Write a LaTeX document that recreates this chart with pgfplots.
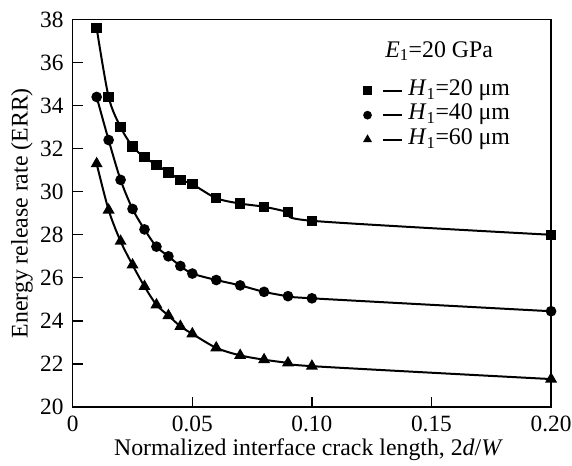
\documentclass[border=0pt]{standalone}
\usepackage{fontspec}
\setmainfont{Liberation Serif}
\usepackage{pgfplots}
\pgfplotsset{compat=1.18}

\begin{document}
\fontsize{24}{28}\selectfont
\begin{tikzpicture}
\useasboundingbox (-73bp,-59bp) rectangle (501bp,408.5bp);
\begin{axis}[
  at={(0,0)}, anchor=south west,
  scale only axis,
  width=480bp, height=389bp,
  xmin=0, xmax=0.2, ymin=20, ymax=38,
  xtick={0,0.05,0.1,0.15,0.2},
  xticklabels={0,0.05,0.10,0.15,0.20},
  ytick={20,22,...,38},
  xtick pos=left, ytick pos=left,
  tick align=inside,
  major tick length=10bp,
  /pgf/number format/assume math mode=true,
  every tick label/.append style={font=\fontsize{23.5}{28}\selectfont},
  xticklabel style={inner sep=0pt, anchor=north, yshift=-9bp},
  yticklabel style={inner sep=0pt, anchor=east, xshift=-9bp},
  axis line style={line width=1.2bp},
  tick style={line width=1.2bp, black},
  xlabel={Normalized interface crack length, 2\textit{d}/\textit{W}},
  ylabel={Energy release rate (ERR)},
  every axis x label/.style={at={(axis description cs:0.493,-0.124)}, anchor=base,
    inner sep=0pt, font=\fontsize{24}{28}\selectfont},
  every axis y label/.style={at={(axis description cs:-0.106,0.5)}, anchor=center,
    rotate=90, inner sep=0pt, font=\fontsize{24}{28}\selectfont},
  every axis plot/.append style={black, line width=2bp, smooth},
  legend style={draw=none, fill=none, at={(rel axis cs:0.609,0.848)}, anchor=north west,
    inner sep=0pt, row sep=0pt, column sep=0pt, cells={anchor=west},
    nodes={inner sep=0pt, text height=17bp, text depth=7.5bp},
    font=\fontsize{24}{28}\selectfont},
  legend image code/.code={
    \draw[#1, mark size=3.3bp] plot coordinates {(0bp,0bp)};
    \draw[#1, mark=none] (16bp,0bp) -- (35bp,0bp);
    \path (40bp,0bp);
  },
]
\addplot[mark=square*, mark size=4.2bp] coordinates {
 (0.01,37.6) (0.015,34.4) (0.02,33.0) (0.025,32.1) (0.03,31.6) (0.035,31.25)
 (0.04,30.9) (0.045,30.55) (0.05,30.35) (0.06,29.7) (0.07,29.45) (0.08,29.3)
 (0.09,29.05) (0.1,28.65) (0.2,28.0)};
\addlegendentry{\textit{H}\textsubscript{1}=20 μm}
\addplot[mark=*, mark size=4.3bp] coordinates {
 (0.01,34.4) (0.015,32.4) (0.02,30.55) (0.025,29.2) (0.03,28.25) (0.035,27.45)
 (0.04,27.0) (0.045,26.55) (0.05,26.2) (0.06,25.9) (0.07,25.65) (0.08,25.35)
 (0.09,25.15) (0.1,25.05) (0.2,24.45)};
\addlegendentry{\textit{H}\textsubscript{1}=40 μm}
\addplot[mark=triangle*, mark size=5bp] coordinates {
 (0.01,31.3) (0.015,29.15) (0.02,27.7) (0.025,26.6) (0.03,25.6) (0.035,24.75)
 (0.04,24.25) (0.045,23.75) (0.05,23.4) (0.06,22.75) (0.07,22.4) (0.08,22.2)
 (0.09,22.05) (0.1,21.9) (0.2,21.3)};
\addlegendentry{\textit{H}\textsubscript{1}=60 μm}
\node[font=\fontsize{24}{28}\selectfont] at (rel axis cs:0.766,0.918) {\textit{E}\textsubscript{1}=20 GPa};
\end{axis}
\end{tikzpicture}
\end{document}
